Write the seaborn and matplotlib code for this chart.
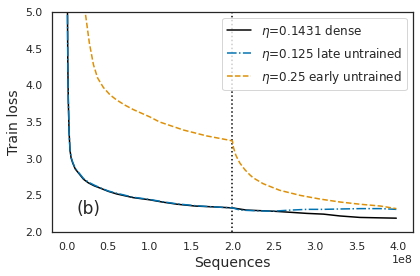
import numpy as np
import pandas as pd
import matplotlib
matplotlib.use("Agg")
import matplotlib.pyplot as plt
import seaborn as sns

# values (sequences in units of 1e8)
seq_dense = [0.0, 0.005, 0.010, 0.016, 0.025, 0.036, 0.05, 0.07, 0.10, 0.157, 0.20, 0.26, 0.33, 0.40,
             0.50, 0.60, 0.80, 1.00, 1.15, 1.33, 1.55, 1.75, 2.00, 2.17, 2.49, 2.70, 2.90, 3.10,
             3.30, 3.54, 3.75, 3.98]
loss_dense = [6.0, 5.2, 4.3, 3.80, 3.38, 3.12, 3.01, 2.94, 2.86, 2.78, 2.72, 2.67, 2.63, 2.60,
              2.555, 2.52, 2.47, 2.44, 2.41, 2.38, 2.355, 2.345, 2.33, 2.30, 2.285, 2.27, 2.255, 2.245,
              2.22, 2.20, 2.195, 2.19]

seq_late = [0.0, 0.005, 0.010, 0.016, 0.025, 0.036, 0.05, 0.07, 0.10, 0.157, 0.20, 0.26, 0.33, 0.40,
            0.50, 0.60, 0.80, 1.00, 1.15, 1.33, 1.55, 1.75, 2.00, 2.09, 2.30, 2.49, 2.70, 2.90,
            3.10, 3.30, 3.55, 3.79, 3.98]
loss_late = [6.0, 5.2, 4.32, 3.82, 3.39, 3.13, 3.02, 2.95, 2.87, 2.79, 2.73, 2.68, 2.64, 2.605,
             2.56, 2.53, 2.475, 2.445, 2.415, 2.385, 2.36, 2.345, 2.33, 2.30, 2.29, 2.285, 2.30, 2.31,
             2.31, 2.315, 2.32, 2.32, 2.31]

seq_early = [0.18, 0.22, 0.27, 0.32, 0.37, 0.44, 0.52, 0.60, 0.70, 0.80, 0.90, 1.00, 1.12, 1.41,
             1.69, 1.97, 2.00, 2.01, 2.04, 2.07, 2.09, 2.15, 2.21, 2.25, 2.37, 2.57, 2.82, 3.06,
             3.30, 3.54, 3.79, 3.98]
loss_early = [5.6, 5.0, 4.58, 4.28, 4.10, 3.97, 3.87, 3.80, 3.73, 3.67, 3.62, 3.57, 3.50, 3.39,
              3.31, 3.25, 3.24, 3.16, 3.05, 2.98, 2.94, 2.85, 2.78, 2.74, 2.66, 2.57, 2.50, 2.45,
              2.41, 2.38, 2.355, 2.32]

labels = [r"$\eta$=0.1431 dense", r"$\eta$=0.125 late untrained", r"$\eta$=0.25 early untrained"]
switch_point = 2.0

sns.set_theme(style="white", context="notebook")
pal = sns.color_palette("colorblind")

fig = plt.figure(figsize=(420 / 72, 276 / 72), dpi=72)
ax = fig.add_axes([0.124, 0.159, 0.859, 0.798])

series = [
    (seq_dense, loss_dense, labels[0], "black", "-"),
    (seq_late, loss_late, labels[1], pal[0], "-."),
    (seq_early, loss_early, labels[2], pal[1], "--"),
]
for xs, ys, lab, col, ls in series:
    df = pd.DataFrame({"seq": np.array(xs) * 1e8, "loss": ys})
    sns.lineplot(data=df, x="seq", y="loss", ax=ax, color=col, linestyle=ls,
                 linewidth=1.5, label=lab, sort=False, estimator=None)

ax.axvline(switch_point * 1e8, color="black", linestyle=":", linewidth=1.5, zorder=0)

ax.set_ylim(2.0, 5.0)
ax.set_xlim(-0.18e8, 4.18e8)
ax.set_xticks(np.arange(0, 4.01e8, 0.5e8))
ax.tick_params(labelsize=11)
ax.set_xlabel("Sequences", fontsize=14)
ax.set_ylabel("Train loss", fontsize=14)
ax.xaxis.get_offset_text().set_fontsize(11)
ax.text(0.12e8, 2.25, "(b)", fontsize=17)
ax.legend(loc="upper right", fontsize=12)

fig.savefig("out.png", dpi=72)
